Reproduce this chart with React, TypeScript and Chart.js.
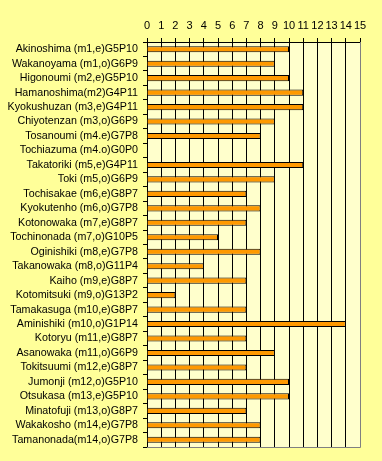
import React, { useEffect, useRef } from "react";
import { Chart, registerables } from "chart.js";
Chart.register(...registerables);

const wrestlers = [
  "Akinoshima (m1,e)G5P10",
  "Wakanoyama (m1,o)G6P9",
  "Higonoumi (m2,e)G5P10",
  "Hamanoshima(m2)G4P11",
  "Kyokushuzan (m3,e)G4P11",
  "Chiyotenzan (m3,o)G6P9",
  "Tosanoumi (m4.e)G7P8",
  "Tochiazuma (m4.o)G0P0",
  "Takatoriki (m5,e)G4P11",
  "Toki (m5,o)G6P9",
  "Tochisakae (m6,e)G8P7",
  "Kyokutenho (m6,o)G7P8",
  "Kotonowaka (m7,e)G8P7",
  "Tochinonada (m7,o)G10P5",
  "Oginishiki (m8,e)G7P8",
  "Takanowaka (m8,o)G11P4",
  "Kaiho (m9,e)G8P7",
  "Kotomitsuki (m9,o)G13P2",
  "Tamakasuga (m10,e)G8P7",
  "Aminishiki (m10,o)G1P14",
  "Kotoryu (m11,e)G8P7",
  "Asanowaka (m11,o)G6P9",
  "Tokitsuumi (m12,e)G8P7",
  "Jumonji (m12,o)G5P10",
  "Otsukasa (m13,e)G5P10",
  "Minatofuji (m13,o)G8P7",
  "Wakakosho (m14,e)G7P8",
  "Tamanonada(m14,o)G7P8",
];

const points = [10, 9, 10, 11, 11, 9, 8, 0, 11, 9, 7, 8, 7, 5, 8, 4, 7, 2, 7, 14, 7, 9, 7, 10, 10, 7, 8, 8];

const xMin = 0;
const xMax = 15;

const bgPlugin = {
  id: "bg",
  beforeDraw(chart: any) {
    const { ctx, chartArea: a, width, height } = chart;
    ctx.save();
    ctx.fillStyle = "#FFFF99";
    ctx.fillRect(0, 0, width, height);
    ctx.fillStyle = "#FFFFCC";
    ctx.fillRect(a.left, a.top, a.right - a.left, a.bottom - a.top);
    ctx.restore();
  },
  afterDraw(chart: any) {
    const { ctx, chartArea: a } = chart;
    ctx.save();
    ctx.strokeStyle = "#808080";
    ctx.lineWidth = 1;
    ctx.beginPath();
    ctx.moveTo(Math.round(a.right) + 0.5, a.top);
    ctx.lineTo(Math.round(a.right) + 0.5, Math.round(a.bottom) + 0.5);
    ctx.lineTo(a.left, Math.round(a.bottom) + 0.5);
    ctx.stroke();
    ctx.restore();
  },
};

export default function App() {
  const ref = useRef<HTMLCanvasElement>(null);
  useEffect(() => {
    document.body.style.margin = "0";
    const font = { family: "'Liberation Sans', Arial, sans-serif", size: 10.7 };
    const chart = new Chart(ref.current!, {
      type: "bar",
      data: {
        labels: wrestlers,
        datasets: [
          {
            data: points,
            backgroundColor: "#FF9900",
            borderColor: "#000000",
            borderWidth: 1,
            barPercentage: 0.42,
            categoryPercentage: 1,
          },
        ],
      },
      options: {
        indexAxis: "y",
        responsive: false,
        animation: false,
        layout: { padding: { left: 0, right: 22, top: 0, bottom: 14 } },
        plugins: { legend: { display: false }, tooltip: { enabled: false } },
        scales: {
          x: {
            position: "top",
            min: xMin,
            max: xMax,
            ticks: {
              stepSize: 1,
              autoSkip: false,
              maxRotation: 0,
              color: "#000",
              font: { ...font, size: 11 },
              padding: 5,
            },
            grid: {
              color: "#000",
              tickLength: 4,
              lineWidth: 1,
            },
            border: { color: "#000" },
            afterFit: (s: any) => {
              s.height = 42;
            },
          },
          y: {
            ticks: { color: "#000", font, padding: 5, autoSkip: false },
            grid: {
              drawOnChartArea: false,
              tickLength: 4,
              color: "#000",
              offset: true,
            },
            border: { color: "#000" },
            afterFit: (s: any) => {
              s.width = 147;
            },
          },
        },
      },
      plugins: [bgPlugin],
    } as any);
    return () => chart.destroy();
  }, []);
  return <canvas ref={ref} width={382} height={461} style={{ display: "block" }} />;
}
